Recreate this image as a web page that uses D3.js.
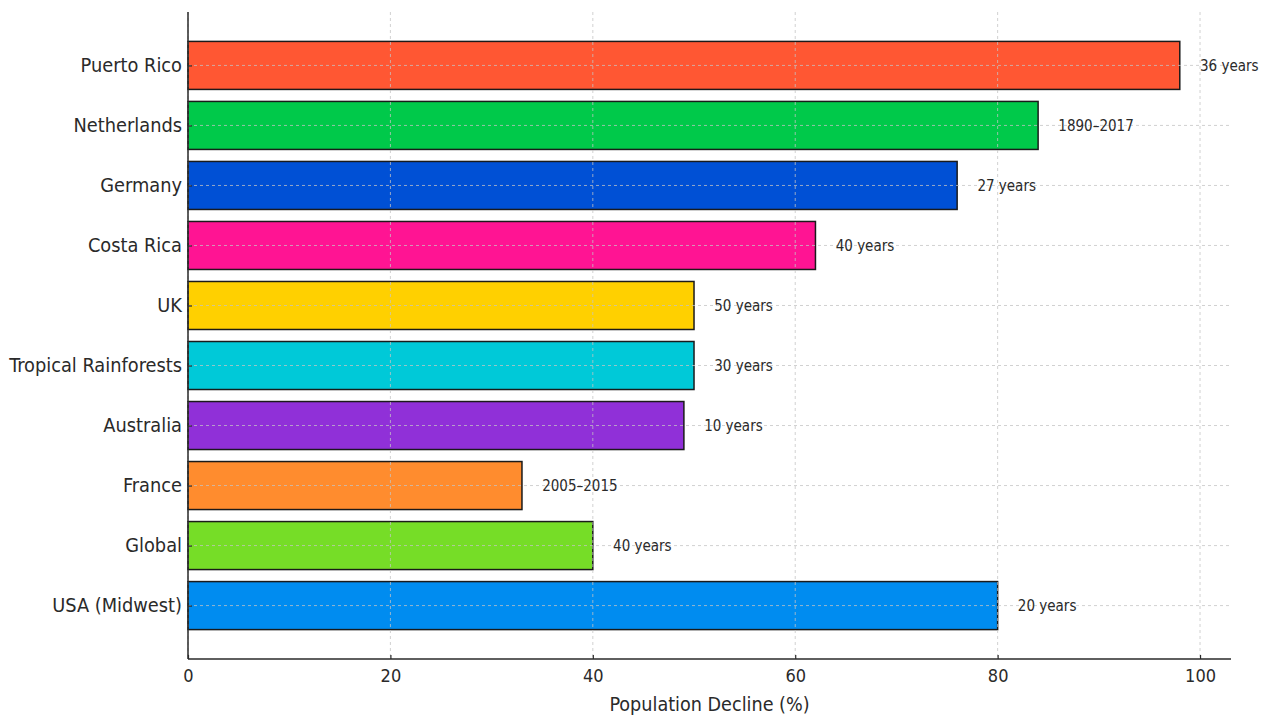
<!DOCTYPE html>
<html><head><meta charset="utf-8">
<script src="https://cdn.jsdelivr.net/npm/d3@7"></script>
<style>
body{margin:0;background:#fff;}
text{font-family:"DejaVu Sans Condensed","DejaVu Sans",sans-serif;fill:#2a2a2a;}
</style></head>
<body><svg id="c" width="1270" height="718"></svg>
<script>
const regions = ["Puerto Rico","Netherlands","Germany","Costa Rica","UK","Tropical Rainforests","Australia","France","Global","USA (Midwest)"];
const declines = [98,84,76,62,50,50,49,33,40,80];
const periods = ["36 years","1890–2017","27 years","40 years","50 years","30 years","10 years","2005–2015","40 years","20 years"];
const barColors = ["#FF5733","#00C94A","#0050D5","#FF1493","#FFD000","#00C9D8","#9030D8","#FF8C2E","#76DD27","#008CF0"];
const xTicks = [0,20,40,60,80,100];
const xLabel = "Population Decline (%)";

const svg = d3.select("#c");
const L=188, R=1231, T=12, B=659;
const x = d3.scaleLinear().domain([0,103.06]).range([L,R]);
const y = d3.scaleLinear().domain([-0.89,9.89]).range([T,B]);
const bh = y(0.4)-y(-0.4);

svg.append("g").selectAll("rect").data(regions).join("rect")
  .attr("x",x(0)).attr("y",(d,i)=>y(i)-bh/2)
  .attr("width",(d,i)=>x(declines[i])-x(0)).attr("height",bh)
  .attr("fill",(d,i)=>barColors[i]).attr("stroke","#1a1a1a").attr("stroke-width",1.5);

const g = svg.append("g").attr("stroke","#c4c4c4").attr("stroke-width",0.9).attr("stroke-dasharray","3,3").attr("opacity",0.85);
g.selectAll("line.v").data(xTicks).join("line").attr("class","v")
  .attr("x1",d=>x(d)).attr("x2",d=>x(d)).attr("y1",T).attr("y2",B);
g.selectAll("line.h").data(regions).join("line").attr("class","h")
  .attr("x1",L).attr("x2",R).attr("y1",(d,i)=>y(i)).attr("y2",(d,i)=>y(i));

svg.append("g").selectAll("text").data(periods).join("text")
  .attr("x",(d,i)=>x(declines[i]+2)).attr("y",(d,i)=>y(i))
  .attr("dy","0.35em").attr("font-size",15).text(d=>d);

const xa = svg.append("g").attr("transform",`translate(0,${B})`)
  .call(d3.axisBottom(x).tickValues(xTicks).tickSize(-4).tickPadding(10).tickFormat(d3.format("d")));
xa.select(".domain").attr("d",`M${L},0H${R}`).attr("stroke","#2a2a2a").attr("stroke-width",1.5);
xa.selectAll(".tick line").attr("stroke","#2a2a2a").attr("stroke-width",1.2);
xa.selectAll(".tick text").attr("font-size",18).attr("font-family",null).attr("fill","#2a2a2a");

const ya = svg.append("g").attr("transform",`translate(${L},0)`)
  .call(d3.axisLeft(y).tickValues(d3.range(regions.length)).tickSize(-4).tickPadding(6).tickFormat(i=>regions[i]));
ya.select(".domain").attr("d",`M0,${T}V${B}`).attr("stroke","#2a2a2a").attr("stroke-width",1.5);
ya.selectAll(".tick line").attr("stroke","#2a2a2a").attr("stroke-width",1.2);
ya.selectAll(".tick text").attr("font-size",19.8).attr("font-family",null).attr("fill","#2a2a2a");

svg.append("text").attr("x",(L+R)/2).attr("y",711).attr("text-anchor","middle")
  .attr("font-size",19.6).text(xLabel);
</script></body></html>
